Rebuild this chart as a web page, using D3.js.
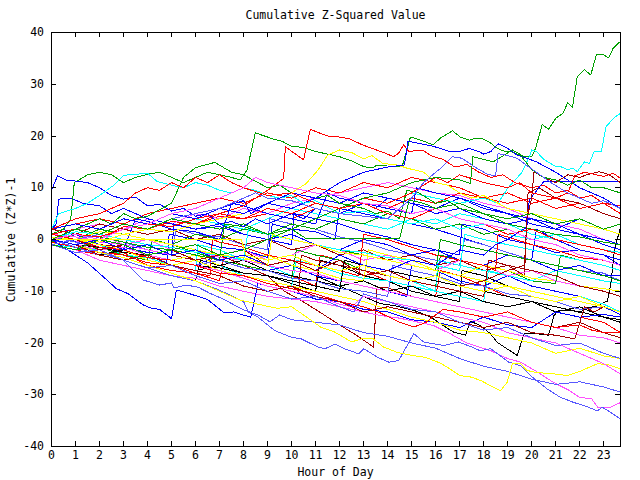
<!DOCTYPE html>
<html>
<head>
<meta charset="utf-8">
<script src="https://cdn.jsdelivr.net/npm/d3@7"></script>
<style>
  body { margin: 0; background: #fff; }
  text { font-family: "DejaVu Sans Mono", monospace; font-size: 11.5px; fill: #000; }
</style>
</head>
<body>
<div id="chart"></div>
<script>
// colours used by gnuplot's png terminal
const palette = {
  red: "#ff0000", green: "#00a000", blue: "#0000ff", magenta: "#ff50ff",
  cyan: "#00ffff", darkred: "#a00000", yellow: "#ffff00", black: "#000000",
  slate: "#5858ff"
};

const xTicks = [0,1,2,3,4,5,6,7,8,9,10,11,12,13,14,15,16,17,18,19,20,21,22,23];
const yTicks = [-40,-30,-20,-10,0,10,20,30,40];

// [hour, cumulative value]
const upperLines = [
  [[0,1],[0.5,2],[0.8,4],[0.95,11],[1.5,12.5],[2,13],[2.5,12.5],[3,11],[3.5,12],[4,12.6],[4.5,13],[5,12],[5.5,11],[6,12],[6.5,13],[7,12.5],[7.5,12],[7.86,11.5],[8.14,13.4],[8.49,20.6],[9,19.8],[9.3,19.3],[9.6,19],[10,18],[10.5,17.8],[11,17],[11.5,16.5],[12,16],[12.5,15.2],[13,14.1],[13.35,13.8],[13.56,14.4],[14,14.2],[14.6,14],[14.95,19.8],[15.37,19.2],[15.9,18.3],[16.2,19.6],[16.7,21],[17.03,19.8],[17.4,19.2],[17.7,19.6],[18,19.4],[18.3,18.6],[18.57,17.6],[18.9,17],[19.2,16.9],[19.47,16.3],[19.8,16],[20,16],[20.16,17.6],[20.44,22.2],[20.7,21.3],[21,23.4],[21.3,24.4],[21.5,26.4],[21.7,25.6],[21.9,31.5],[22.2,32.8],[22.46,31.8],[22.7,35.7],[23,35.7],[23.2,35.1],[23.4,37],[23.7,38.3]],
  [[0,1],[1,2],[2,1],[3,3],[4,2],[5,4],[6,3],[7,5],[8,4],[9,6],[10,5],[11,7],[12,6],[13,8],[14,7],[15,9],[16,8],[17,7],[18,8],[18.6,7],[19,9.9],[19.6,13],[19.9,16],[20,17.3],[20.2,17],[20.5,15.5],[21,14.1],[21.2,14.1],[21.5,13.5],[21.7,13.8],[21.9,13.1],[22.2,15],[22.4,14.7],[22.6,17],[22.9,17],[23.1,21.8],[23.4,23.4],[23.7,24.4]],
  [[0,0],[1,1],[2,0.5],[3,2],[4,3],[5,2.5],[6,4],[7,5],[8,6.5],[8.5,8],[9,9.5],[9.67,11.8],[9.74,17.9],[10.5,15.4],[10.78,21.3],[11.2,20.5],[11.6,19.9],[12,19.8],[12.45,19.4],[12.94,18.3],[13.35,17.6],[13.84,16.8],[14.25,16],[14.46,16.7],[14.67,18.3],[14.88,17],[15.44,17.3],[15.85,16.1],[16.3,15.5],[16.8,14],[17.3,14.5],[17.8,13],[18.3,12],[18.8,12.5],[19.3,11],[20,10],[20.5,10.5],[21,9],[21.5,9.5],[22,8],[22.5,8.5],[23,7],[23.7,6.5]],
  [[0,-1],[1,0],[2,-0.5],[3,1],[4,2],[5,1.5],[6,3],[7,4],[8,5],[9,7],[10,9],[10.6,10.8],[11.1,13.4],[11.5,16.3],[12,17.3],[12.5,16.8],[13,15.6],[13.35,16.2],[13.8,14.7],[14.4,14.4],[14.8,13.8],[15.5,13],[16,11],[16.5,10.5],[17,9],[17.5,8],[18,8.5],[19,6],[20,5],[21,4],[22,3],[23,2],[23.7,1]],
  [[0,9.5],[0.25,12.3],[0.6,11.5],[1,11.3],[1.5,11],[2,10],[2.5,8.5],[3,7.8],[3.5,8.2],[4,6.5],[4.5,6.8],[5,5.5],[5.5,6],[6,4.5],[6.5,5],[7,3],[7.5,3.5],[8,2.5],[8.5,4],[9,3],[10,5],[10.5,4],[11,6],[12,5],[13,7],[13.5,6],[14,8],[15,7],[16,5],[17,6],[18,4],[19,3],[20,4],[21,2],[22,1],[23,-1],[23.7,-2]],
  [[0,2],[0.3,5],[1,6],[1.5,7],[2,8.5],[2.6,10.5],[3,12.4],[4,12.8],[4.4,11.2],[5,10.5],[5.5,10],[6,11],[6.5,10.5],[7,9.5],[7.5,9],[8,10],[8.5,9.5],[9,8.5],[9.5,8],[10,8.5],[10.5,7],[11,7.5],[12,5],[13,5.5],[14,4],[15,3],[16,4],[17,2],[18,3],[19,1],[20,0],[21,1],[22,-1],[23,-2],[23.7,-2.5]],
  [[0,1],[1,2],[2,4],[2.5,3],[3,5],[3.5,4],[4,4.5],[5,7],[5.5,12],[6,13.9],[6.8,14.9],[7.5,13],[8,12.5],[8.4,11.5],[9,10],[9.5,10.5],[10,9],[11,8],[11.5,8.5],[12,7],[12.5,6.5],[13,6],[13.5,5],[14,5.5],[14.5,4],[14.8,9.5],[15.3,9],[16,7],[16.5,7.5],[17,6],[18,5],[19,3],[20,2],[21,1],[22,0.5],[23,-0.5],[23.7,-1]],
  [[0,2],[1,3],[2,2],[3,4],[4,3],[5,5],[6,4],[7,6],[8,5],[9,7],[10,9],[11,8],[12,11],[13,13],[14,14],[14.7,14.4],[14.85,19],[15.4,18.5],[15.9,18],[16.2,17.6],[16.6,17],[17,17],[17.4,17.6],[17.8,17],[18,16.5],[18.3,17],[18.6,18.5],[19,17.6],[19.4,16.3],[19.8,15.7],[20.2,15],[20.6,14],[21,13],[21.5,11.5],[22,10],[22.5,9],[23,8],[23.7,6]],
  [[0,0],[1,-1],[2,0],[3,-2],[4,-1],[5,-3],[6,-2],[7,-4],[8,-3],[9,-5],[10,-4],[11,-6],[12,-3],[13,-5],[14,-6],[15,-4],[16,-5],[17,-2],[18,-3],[18.5,-1],[19,0],[19.8,2.4],[19.9,7.6],[20.5,11.2],[23.7,11.2]],
  [[0,-1],[1,0],[2,-2],[3,-1],[4,-3],[5,-2],[6,-4],[7,-3],[8,-2],[9,-5],[10,-4],[11,-6],[12,-4],[13,-7],[14,-6],[15,-8],[16,-7],[17,-9],[18,-8],[19,-6],[19.7,-5],[19.8,4],[20,8],[20.1,13.1],[20.5,12],[21,11],[21.5,12.5],[22,12],[22.3,12.5],[22.8,13.1],[23.2,12.6],[23.7,11]],
  [[0,1],[1,2],[2,1],[3,3],[4,2],[5,4],[6,3],[7,5],[8,4],[9,6],[10,5],[11,7],[12,6],[13,8],[14,7],[15,9],[16,12],[16.5,11],[17,12.5],[18,11],[19,10],[19.5,11],[20,9],[21,8],[21.5,9],[21.8,12.3],[22.2,13],[22.6,12.6],[23,12.2],[23.4,12.8],[23.7,11.8]],
  [[0,-1],[1,-2],[2,0],[3,-1],[4,-3],[5,-2],[6,-1],[7,-3],[8,-2],[9,0],[10,2],[11,4],[12,6],[13,8],[14,9],[15,11],[16,12],[17,11.5],[17.45,10.8],[17.55,16],[18.4,15],[19.2,17.3],[19.5,16.5],[20,13.5],[20.5,12],[21,11.5],[21.5,10.5],[22,11.5],[22.5,10],[23,10],[23.7,9]],
  [[0,2],[0.5,3],[1,4],[2,5],[3,7],[3.5,9],[4,10],[4.5,9.5],[5,11],[5.5,10],[6,12],[6.5,11],[7,12.5],[7.5,11],[8,10],[9,8.5],[10,9],[11,7],[12,6],[13,7],[14,5],[15,4],[16,6],[17,4],[18,3],[19,1],[20,2],[21,0],[22,-1],[23,-2],[23.7,-3]],
  [[0,0],[1,1],[2,0],[3,2],[4,3],[5,5],[6,6],[7,8],[8,10],[8.5,12],[9,11],[10,10],[11,9],[12,8.5],[13,7],[14,6.5],[15,5],[16,6],[17,4],[18,3],[19,2],[20,0],[21,-1],[22,-3],[23,-4],[23.7,-5]],
  [[0,-1],[1,0],[2,1],[3,3],[4,2],[5,4],[6,5],[7,6],[8,8],[8.5,9],[9,8],[10,7.5],[11,6],[12,5],[13,4.5],[14,4],[15,8],[15.5,11],[16,13],[16.2,13.7],[16.7,16],[17.1,15.7],[17.6,14.1],[18.2,12.5],[18.5,12.4],[18.6,16.6],[19,16.2],[19.4,15.7],[19.8,14.3],[20.2,13],[20.8,11],[21.5,9],[22,8],[22.5,7],[23,7.5],[23.7,6]],
  [[0,0],[1,2],[2,1],[3,3],[4,2],[5,4],[6,3],[7,2],[8,3],[9,1],[10,2],[10.6,0.2],[14.5,0.2],[14.9,7.6],[15.5,7],[16,6],[17,7],[18,5],[19,4],[20,5],[21,3],[22,4],[23,2],[23.7,3]],
  [[0,0],[7.9,0],[8.1,-3],[9,-4],[10,-3],[11,-5],[12,-6],[13,-5],[14,-7],[15,-8],[16,-7],[17,-9],[18,-10],[19,-9],[20,-11],[21,-12],[22,-11],[23,-13],[23.7,-14]]
];
const upperColors = ["green","cyan","red","yellow","blue","cyan","green","blue","blue","darkred","red","green","red","magenta","slate","green","yellow"];

const middleLines = [
  [[0,1],[0.5,2],[1,0.5],[2,-1],[3,-2.5],[4,-3],[4.8,-4.5],[4.9,1],[6,0],[7,-1.5],[8,-2],[9,-3.5],[9.2,3],[10,2],[11,1.5],[11.8,0],[12,6],[13,5],[14,4],[15,3],[16,2],[17,0.5],[18,-1],[19,-2.5],[20,-4],[20.2,2],[21,0],[22,-2],[23,-3],[23.7,-5]],
  [[0,-1],[1,-2],[2,-3],[3,-2.5],[4,-5],[5,-6],[6,-6.5],[7,-8],[7.2,-3],[8,-4],[9,-6],[10,-7],[11,-9],[11.2,-3],[12,-4],[13,-6],[14,-8],[15,-9],[16,-11],[16.2,-6],[17,-7],[18,-9],[19,-11],[20,-12],[21,-14],[22,-15],[23,-16],[23.7,-18]],
  [[0,0],[1,-1],[2,0],[3,-2],[4,-1],[5,-3],[6,-4],[7,-3],[8,-5],[9,-7],[9.7,-10],[10.3,-11.5],[11.06,-13.7],[12,-16.5],[12.7,-18.5],[13.42,-20.8],[13.56,-9.2],[14,-9.3],[15,-11],[16,-12],[17,-13],[18,-14],[19,-15],[20,-16],[21,-17],[22,-16],[23,-18],[23.7,-19]],
  [[0,0],[1,-1],[2,-2],[3,-1],[4,-3],[5,-4],[6,-3],[7,-5],[8,-4],[9,-6],[10,-5],[11,-7],[12,-9],[13,-11],[13.7,-12.4],[14.3,-12.8],[15.1,-13.7],[15.8,-15],[16.2,-16.3],[16.75,-17.9],[17.25,-18.5],[17.45,-15.8],[17.86,-16.6],[18.3,-18.3],[18.57,-19.9],[19,-21.2],[19.4,-22.4],[19.68,-18.2],[20.2,-18.2],[20.7,-18.5],[20.93,-14.7],[21.1,-13.8],[21.76,-13.8],[22,-14.1],[22.3,-13.2],[22.7,-12.9],[23.15,-11.9],[23.3,-8.5],[23.45,-2],[23.7,2.4]],
  [[0,-1],[1,-2],[2,-4],[3,-5],[4,-6],[5,-7],[6,-8],[6.2,-4],[7,-5],[8,-6.5],[9,-7],[10,-8.5],[11,-10],[11.2,-4],[12,-5],[13,-7],[14,-8],[15,-10],[16,-11],[17,-12],[17.1,-6],[18,-7],[19,-9],[20,-10],[21,-11],[22,-12],[23,-13],[23.7,-14]],
  [[0,1],[1,0],[2,-1],[3,-3],[4,-3.5],[5,-5],[6,-6],[6.1,-1],[7,-2],[8,-4],[9,-5],[10,-7],[11,-8],[12,-9],[12.2,-4],[13,-5],[14,-7],[15,-8],[16,-10],[17,-11],[18,-12],[18.2,-6],[19,-7],[20,-9],[21,-10],[22,-11],[23,-12.5],[23.7,-14]],
  [[0,-1],[1,0],[2,-2],[3,-1],[4,-3],[5,-4],[6,-5],[7,-3],[8,-4],[9,-6],[10,-5],[11,-7],[12,-8],[13,-9],[14,-10],[14.8,-11],[15,-5],[16,-6],[17,-8],[18,-9],[19,-7],[20,-9],[21,-10],[22,-11],[23,-13],[23.7,-14.5]],
  [[0,2],[1,3],[2,2],[3,4],[4,3],[5,5],[6,4],[7,3],[8,2],[9,4],[10,6],[11,5],[12,4],[13,3],[14,2],[15,4],[16,3],[17,5],[18,4],[19,3],[20,1],[21,0],[22,-1],[23,-2],[23.7,-3]],
  [[0,-1],[1,-2],[2,-1.5],[3,-3],[4,-4],[4.2,0],[5,-1],[6,-2.5],[7,-4],[8,-5],[9,-6],[10,-7.5],[10.2,-2],[11,-3],[12,-4],[13,-6],[14,-7],[15,-8],[16,-9],[16.2,-3],[17,-4],[18,-5],[19,-6],[20,-8],[21,-8.5],[21.2,-3],[22,-4],[23,-5],[23.7,-6]],
  [[0,0],[1,1],[2,0],[3,2.5],[4,2],[5,3.5],[6,3],[7,4.5],[8,4],[9,5],[10,4],[11,6],[12,5],[13,7],[14,6],[15,8],[16,7],[17,9],[18,8],[19,7],[20,8],[21,6],[22,7],[23,5],[23.7,4]],
  [[0,1],[1,2],[2,3],[3,2],[4,4],[5,3],[6,5],[7,4],[8,6],[9,5],[10,7],[11,8],[12,9],[13,10],[14,11],[15,10],[16,9],[17,8.5],[18,7],[19,6],[20,4],[21,3],[22,2],[23,0],[23.7,-1]],
  [[0,0],[1,-1],[2,0.5],[3,-0.5],[4,-2],[5,-3],[5.2,2],[6,1],[7,0.5],[8,-1],[9,-2],[9.1,4],[10,3],[11,2],[12,0.5],[13,-0.5],[14,-2],[15,-3],[16,-4],[17,-5],[17.2,0],[18,-1],[19,-2.5],[20,-4],[21,-5],[22,-6],[23,-6.5],[23.7,-8]],
  [[0,2],[1,1],[2,3],[3,2],[4,1],[5,2],[6,0],[7,1],[8,-1],[9,0],[10,-2],[11,-1],[12,-3],[13,-2],[14,-4],[15,-3],[16,-5],[17,-4],[18,-6],[19,-5],[19.7,-7],[19.85,9],[20.3,10],[21,8],[22,7],[23,5],[23.7,4]],
  [[0,0],[1,1],[2,-1],[3,-1.5],[4,-2.5],[5,-3],[5.1,3],[6,2],[7,2.5],[8,1],[9,0],[10,-1],[10.1,5],[11,4],[12,3],[13,1.5],[14,0.5],[15,-1],[16,-2],[17,-3],[17.1,3],[18,2],[19,0],[20,-1],[21,-2.5],[22,-2],[23,-3],[23.7,-4]],
  [[0,-1],[1,-1.5],[2,-2],[3,-4],[4,-3],[5,-5],[6,-6],[7,-5],[8,-7],[9,-8],[10,-9],[10.2,-4],[11,-5],[12,-6.5],[13,-7.5],[14,-8],[15,-9],[16,-10],[16.1,-4],[17,-5],[18,-6],[19,-7],[20,-8],[21,-6],[22,-7],[23,-8],[23.7,-8.5]],
  [[0,1],[1,0],[2,2],[3,1],[4,0],[5,-1],[6,1],[7,0],[8,2],[9,1],[10,3],[11,2],[12,4],[13,3],[14,5],[15,4],[16,2],[17,3],[18,1],[19,2],[20,0],[21,1],[22,-1],[23,-2],[23.7,-3]],
  [[0,0],[1,-1],[2,-2],[3,-1],[4,-3],[5,-4],[6,-3],[7,-5],[8,-4],[9,-3],[10,-5],[11,-6],[12,-7.5],[13,-8],[13.2,-2],[14,-3],[15,-4],[16,-6],[17,-7],[18,-5],[19,-6],[20,-7.5],[21,-8],[22,-9],[23,-9.5],[23.7,-10]],
  [[0,0],[1,-1],[2,-3],[3,-2],[4,-4],[5,-5],[6,-6],[7,-5],[8,-4],[9,-6],[10,-7],[11,-8],[12,-9],[13,-8],[14,-10],[15,-9],[16,-11],[17,-10],[18,-12],[19,-13],[20,-12],[21,-14],[22,-13],[23,-15],[23.7,-16]],
  [[0,2],[1,3],[2,4],[3,3],[4,5],[5,6],[6,7],[7,8],[8,7],[9,9],[10,8],[11,10],[12,9],[13,11],[14,10],[15,12],[16,11],[17,10],[18,8],[19,9],[20,7],[21,8],[22,6],[23,7],[23.7,5]],
  [[0,1],[1,2],[2,1],[3,3],[4,2],[5,4],[6,5],[7,6],[8,7.5],[8.3,5],[9,7],[10,6],[11,8],[12,7],[13,9],[14,8],[15,7],[16,6],[17,8],[18,6],[19,5],[20,3],[21,2],[22,4],[23,2],[23.7,1]],
  [[0,0.5],[1,-0.5],[2,1],[3,-1],[4,0],[5,-2],[6,-1],[7,-3],[8,-2],[9,-4],[10,-3],[11,-1],[12,-2],[13,-4],[14,-3],[15,-5],[16,-6],[17,-4],[18,-5],[19,-7],[20,-6],[21,-8],[22,-9],[23,-10],[23.7,-11]],
  [[0,2],[0.2,3],[0.3,7.8],[0.8,8],[1.3,7],[2,6.5],[2.5,5],[3,6],[4,4],[5,3],[6,2],[7,3],[8,1],[9,0],[10,1],[11,-1],[12,-2],[13,0],[14,-1],[15,-3],[16,-2],[17,-4],[18,-5],[19,-3],[20,-4],[21,-6],[22,-5],[23,-7],[23.7,-7]],
  [[0,0],[0.5,1],[1,-0.5],[2,-1.5],[3,-2],[3.5,4],[4,3.5],[5,2],[6,1.5],[7,0],[7.5,7],[8,6.5],[9,5],[10,4],[11,3],[11.5,9],[12,8],[13,7],[14,6],[15,5],[15.2,10],[16,9],[17,8],[18,6.5],[19,5],[20,4],[21,3],[22,1],[23,0],[23.7,-1]],
  [[0,-0.5],[1,-1.5],[2,-2.5],[3,-3],[4,-4.5],[5,-5],[6,-6.5],[6.6,-7],[6.7,0],[7,-0.5],[8,-1.5],[9,-3],[10,-4],[11,-5],[12,-6],[12.8,-7],[13,1],[14,0],[15,-1.5],[16,-3],[17,-4],[18,-5],[18.5,-6],[18.6,1],[19,0.5],[20,-1],[21,-2],[22,-3.5],[23,-4],[23.7,-5]],
  [[0,1],[1,0],[2,-1],[3,-1.5],[4,-3],[5,-4],[6,-5],[7,-6],[8,-7],[9,-8],[10,-9],[10.3,-10],[10.4,-3],[11,-4],[12,-5],[13,-6],[14,-7],[15,-8],[16,-9],[17,-10],[18,-11],[18.2,-4],[19,-5],[20,-6],[21,-7],[22,-9],[23,-10],[23.7,-11]],
  [[0,0.5],[1,-0.5],[2,-1.5],[3,-2.5],[4,-3],[5,-4],[6,-5],[7,-4],[8,-5.5],[9,-6],[10,-7.5],[11,-8],[12,-9.5],[13,-10],[14,-11],[14.2,-5],[15,-6],[16,-7],[17,-8.5],[18,-9],[19,-10.5],[20,-11],[21,-12],[22,-13.5],[23,-13],[23.7,-14]],
  [[0,1],[1,0.5],[2,-0.5],[3,-1],[4,-2],[5,-3],[6,-2],[7,-3.5],[8,-4],[9,-5],[10,-6],[11,-6.5],[12,-8],[13,-9],[14,-10],[15,-11],[16,-12],[17,-13],[18,-14],[19,-15],[20,-16],[21,-17],[22,-18.5],[23,-19],[23.7,-20]],
  [[0,-0.5],[1,1],[2,0.5],[3,-0.5],[4,-1.5],[5,-2],[6,-3],[7,-4],[7.2,3],[8,2.5],[9,1],[10,0],[11,-1],[12,-2],[13,-3],[14,-4],[15,-5],[16,-6],[16.2,0],[17,-1],[18,-2],[19,-3],[20,-4],[21,-5],[22,-6],[23,-7],[23.7,-8]],
  [[0,0],[1,1.5],[2,1],[3,0],[4,-1],[5,-1.5],[6,-2.5],[7,-3],[8,-4],[8.2,2],[9,1],[10,0],[11,-1],[12,-2],[13,-2.5],[14,-3.5],[15,-4],[16,-5],[17,-6],[17.2,1],[18,0],[19,-1],[20,-2],[21,-3],[22,-4],[23,-5],[23.7,-6]],
  [[0,0.5],[1,0],[2,1.5],[3,1],[4,0],[5,-1],[6,-2],[7,-3],[8,-3.5],[9,-5],[9.2,1],[10,0],[11,-1],[12,-2.5],[13,-3],[14,-4],[15,-5],[16,-6],[17,-7],[18,-8],[19,-9],[20,-10],[21,-11],[22,-12],[23,-13],[23.7,-14]],
  [[0,0],[1,-1],[2,-1.5],[3,-2.5],[4,-3],[5,-4],[6,-5],[7,-5.5],[8,-6.5],[9,-7],[10,-8],[11,-9],[12,-10],[12.2,-4],[13,-5],[14,-6],[15,-7],[16,-8],[17,-9],[18,-10],[19,-11],[20,-12],[21,-13],[22,-14],[23,-15],[23.7,-15.5]]
];
const middleColors = ["blue","red","darkred","black","black","cyan","blue","cyan","green","red","magenta","slate","darkred","blue","cyan","green","yellow","black","red","blue","magenta","blue",
  "blue","red","darkred","slate","magenta","green","cyan","yellow","black"];

const lowerLines = [
  [[0,-1],[1,-2],[2,-4],[3,-5],[4,-6],[5,-7],[6,-7.5],[7,-9],[8,-10],[9,-11],[10,-11.5],[11,-12],[12,-13],[13,-14],[13.7,-14.7],[14.5,-15.2],[15.9,-16.6],[16.6,-18.2],[17.3,-20],[18.3,-21.5],[19,-23],[19.54,-23.7],[20.2,-25.5],[20.9,-27.6],[21.5,-29],[22,-30.5],[22.5,-30.8],[22.75,-32.4],[23.3,-32.4],[23.7,-31.5]],
  [[0,0],[1,-1.5],[2,-3],[3,-4],[4,-5.5],[5,-7],[6,-8],[7,-9.8],[8,-12],[8.2,-14],[8.6,-15],[9.3,-17.6],[10,-18.9],[10.4,-19.2],[11.1,-20.8],[11.4,-21.1],[11.8,-20.2],[12.2,-21.1],[12.8,-22.1],[13,-21.1],[13.6,-22.8],[14.05,-23.7],[14.46,-23.4],[15.09,-18.2],[15.5,-19.8],[16.34,-20.5],[16.96,-19.8],[17.52,-20.8],[17.86,-21.5],[18.29,-21.1],[19.05,-23.7],[19.54,-24.4],[20.03,-26.6],[20.65,-28.9],[21.2,-30.5],[21.76,-31.5],[22.18,-32.1],[22.74,-33.1],[22.94,-32.4],[23.29,-33.4],[23.7,-34.7]],
  [[0,0],[0.5,-1.5],[1,-3],[1.5,-4.5],[2.3,-7.8],[2.7,-9.5],[3.2,-10.5],[3.8,-12.6],[4.1,-13.2],[4.5,-13.5],[5,-15.3],[5.2,-9.8],[5.5,-10.1],[5.9,-10.7],[6.5,-11.6],[7.2,-14.2],[7.6,-14],[7.85,-14.4],[8.3,-15],[8.6,-8.5],[9,-9],[10,-10],[11,-11.5],[12,-12],[13,-13.5],[14,-14],[15,-15.5],[16,-16],[17,-17],[18,-15],[19,-16.5],[20,-17],[21,-14],[22,-15],[23,-14.5],[23.7,-15]],
  [[0,0],[1,-1],[2,-2.5],[3,-4],[3.8,-7.8],[4.5,-8.8],[5,-8.4],[5.1,-9.4],[5.6,-8.8],[6.1,-9.2],[6.6,-10.4],[7.1,-11.4],[8,-13.6],[8.6,-14.6],[9.1,-15.9],[9.5,-14.6],[10,-15.5],[11,-16],[12,-16.5],[13,-18],[14,-18.7],[15,-20],[16,-21],[17,-23],[18,-24.5],[19,-25.5],[20,-27],[21,-28],[22,-27.5],[23,-28.5],[23.7,-29.5]],
  [[0,0],[1,-1],[2,-2.5],[3,-3.5],[4,-5],[5,-6.5],[6,-8],[7,-10],[7.86,-11.7],[8.7,-12.6],[9.4,-13.3],[10,-13],[10.6,-14.9],[11.2,-16.9],[11.8,-17.9],[12.5,-19.8],[12.9,-19.2],[13.4,-19.2],[13.84,-20.8],[14.4,-21.8],[15,-22.4],[15.6,-22.8],[16.2,-23.9],[16.6,-25],[17,-26.3],[17.5,-26.6],[17.9,-27.3],[18.3,-28.3],[18.7,-29.2],[18.98,-27.6],[19.2,-24],[19.54,-24],[19.8,-25.3],[20.2,-25.7],[21,-26],[21.5,-26.3],[22,-25.5],[22.74,-24],[23.2,-24.2],[23.7,-25]],
  [[0,1],[1,0],[2,-1],[3,-2],[4,-4],[5,-5],[6,-4],[7,-6],[8,-7],[9,-8],[10,-9],[11,-10],[12,-11],[13,-12],[14,-13.5],[15,-15],[16,-16],[17,-17.5],[18,-18],[19,-19],[20,-20],[21,-22],[22,-21],[23,-22.5],[23.7,-23]],
  [[0,0],[1,-1],[2,-2],[3,-1.5],[4,-3],[5,-4],[6,-5],[7,-6],[8,-7.5],[9,-9],[10,-10],[11,-11],[12,-12.5],[12.5,-13],[13,-11],[14,-12],[15,-13],[16,-14],[17,-15],[18,-16],[19,-18],[20,-19],[21,-20],[22,-22],[23,-24],[23.7,-26]],
  [[0,1],[1,0],[2,-1.5],[3,-2],[4,-3.5],[5,-4],[6,-5],[7,-6.5],[8,-7],[9,-8.5],[10,-9.5],[11,-10.5],[12,-12],[13,-13],[13.7,-14.2],[14.5,-16],[15.1,-16.9],[15.6,-16],[16.3,-13.5],[17,-14],[18,-15],[19,-14],[20,-16],[21,-17],[22,-16.5],[22.5,-17.5],[23,-18],[23.7,-18]],
  [[0,0],[1,-1],[2,-3],[3,-4],[4,-3],[5,-5],[6,-6],[7,-7],[8,-9],[9,-10],[10,-9],[11,-11],[12,-12],[13,-14],[14,-13],[15,-14],[16,-15],[17,-16],[18,-17],[19,-16],[20,-18],[21,-18.5],[21.8,-19.2],[22.2,-13],[22.6,-14],[23,-13],[23.7,-14]],
  [[0,-1],[1,-2.5],[2,-2],[3,-4],[4,-5.5],[5,-5],[6,-7],[7,-8.5],[8,-8],[9,-10],[10,-11.5],[11,-11],[12,-13],[12.6,-14],[13,-10.5],[14,-12],[15,-13.5],[16,-14],[17,-16],[18,-17.5],[19,-17],[20,-19],[21,-20.5],[22,-20],[23,-22],[23.7,-23]]
];
const lowerColors = ["magenta","slate","blue","slate","yellow","yellow","magenta","red","darkred","slate"];

const width = 640, height = 480;
const x = d3.scaleLinear().domain([0, 23.7]).range([51, 620]);
const y = d3.scaleLinear().domain([-40, 40]).range([446, 32]);

const svg = d3.select("#chart").append("svg")
  .attr("width", width)
  .attr("height", height);

svg.append("clipPath").attr("id", "plot")
  .append("rect")
  .attr("x", 51).attr("y", 32)
  .attr("width", 570).attr("height", 415);

const line = d3.line()
  .x(d => x(d[0]) + 0.5)
  .y(d => y(d[1]) + 0.5);

const plot = svg.append("g")
  .attr("clip-path", "url(#plot)")
  .attr("shape-rendering", "crispEdges");

[[middleLines, middleColors], [lowerLines, lowerColors], [upperLines, upperColors]].forEach(([lines, colors]) => {
  plot.append("g").selectAll("path")
    .data(lines)
    .enter().append("path")
    .attr("d", line)
    .attr("fill", "none")
    .attr("stroke", (d, i) => palette[colors[i]])
    .attr("stroke-width", 1);
});

// axes with inward ticks on all four sides
function styleAxis(g) {
  g.select(".domain").remove();
  g.attr("font-family", null).attr("font-size", null);
  g.selectAll("line").attr("stroke", "#000").attr("shape-rendering", "crispEdges");
}

svg.append("g")
  .attr("transform", `translate(0,${y(-40)})`)
  .call(d3.axisBottom(x).tickValues(xTicks).tickSize(-5).tickPadding(5).tickFormat(d => String(d)))
  .call(styleAxis);

svg.append("g")
  .attr("transform", `translate(0,${y(40)})`)
  .call(d3.axisTop(x).tickValues(xTicks).tickSize(-5).tickFormat(""))
  .call(styleAxis);

svg.append("g")
  .attr("transform", `translate(${x(0)},0)`)
  .call(d3.axisLeft(y).tickValues(yTicks).tickSize(-5).tickPadding(7).tickFormat(d => String(d)))
  .call(styleAxis);

svg.append("g")
  .attr("transform", `translate(${x(23.7)},0)`)
  .call(d3.axisRight(y).tickValues(yTicks).tickSize(-5).tickFormat(""))
  .call(styleAxis);

svg.append("rect")
  .attr("x", x(0) + 0.5).attr("y", y(40) + 0.5)
  .attr("width", x(23.7) - x(0)).attr("height", y(-40) - y(40))
  .attr("fill", "none")
  .attr("stroke", "#000")
  .attr("shape-rendering", "crispEdges");

svg.selectAll(".tick text").style("fill", "#000");

svg.append("text")
  .attr("x", 335.5).attr("y", 19)
  .attr("text-anchor", "middle")
  .text("Cumulative Z-Squared Value");

svg.append("text")
  .attr("x", 335.5).attr("y", 476)
  .attr("text-anchor", "middle")
  .text("Hour of Day");

svg.append("text")
  .attr("transform", "translate(14.5,240) rotate(-90)")
  .attr("text-anchor", "middle")
  .text("Cumulative (Z*Z)-1");
</script>
</body>
</html>
